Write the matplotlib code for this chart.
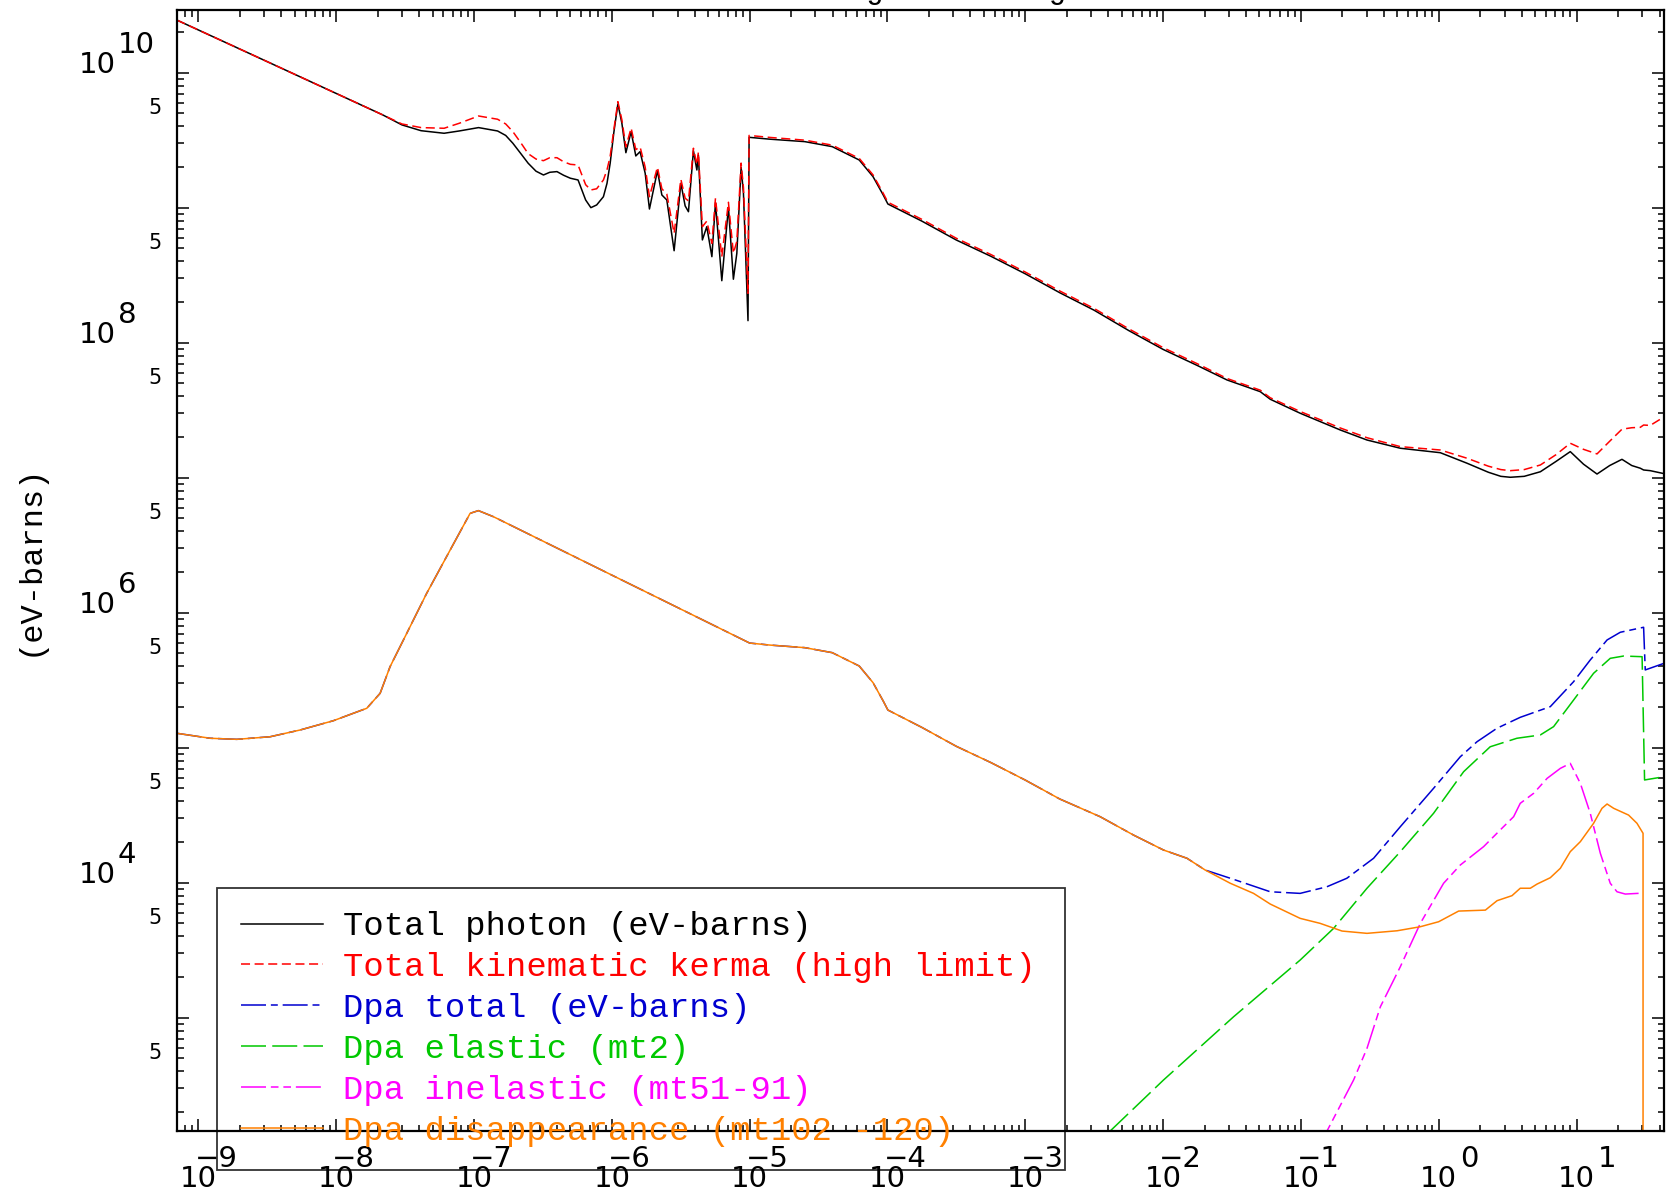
import numpy as np
import matplotlib
matplotlib.use("Agg")
import matplotlib.pyplot as plt
import matplotlib.transforms as mtransforms
from matplotlib.ticker import LogLocator, NullFormatter

# ---- data (log10 of energy, log10 of eV-barns) ----
black_logE = [-9.157, -8.495, -7.662, -7.523, -7.384, -7.217, -7.107, -6.967, -6.829, -6.77,
              -6.718, -6.66, -6.607, -6.55, -6.496, -6.45, -6.398, -6.35, -6.301, -6.245,
              -6.190, -6.152, -6.11, -6.061, -6.035, -6.012, -5.985, -5.956,
              -5.927, -5.898, -5.860, -5.826, -5.795, -5.758, -5.727, -5.669, -5.637, -5.601,
              -5.548, -5.499, -5.468, -5.444, -5.408, -5.383, -5.372, -5.343, -5.311, -5.274,
              -5.248, -5.202, -5.154, -5.118, -5.093, -5.062, -5.045, -5.012, -5.004, -4.851,
              -4.600, -4.401, -4.205, -4.105, -4.031, -3.997, -3.75, -3.5, -3.25, -3.0,
              -2.75, -2.5, -2.25, -2.0, -1.75, -1.537, -1.295, -1.223, -1.005, -0.714,
              -0.521, -0.279, 0.011, 0.205, 0.36, 0.45, 0.519, 0.62, 0.737, 0.85,
              0.954, 1.05, 1.148, 1.24, 1.329, 1.40, 1.462, 1.486, 1.534, 1.634]
black_logY = [10.390, 10.079, 9.687, 9.613, 9.570, 9.551, 9.568, 9.593, 9.568, 9.535,
              9.477, 9.400, 9.329, 9.270, 9.242, 9.262, 9.267, 9.240, 9.218, 9.205,
              9.057, 9.000, 9.020, 9.081, 9.180, 9.329, 9.560, 9.768,
              9.625, 9.407, 9.563, 9.383, 9.415, 9.255, 8.990, 9.274, 9.094, 9.057,
              8.681, 9.181, 9.013, 8.970, 9.422, 9.279, 9.390, 8.761, 8.859, 8.637,
              9.037, 8.459, 9.003, 8.470, 8.662, 9.299, 9.107, 8.163, 9.521, 9.507,
              9.489, 9.452, 9.353, 9.230, 9.094, 9.027, 8.90, 8.76, 8.64, 8.51,
              8.37, 8.24, 8.09, 7.95, 7.83, 7.724, 7.637, 7.581, 7.477, 7.353,
              7.279, 7.218, 7.185, 7.107, 7.040, 7.010, 7.003, 7.010, 7.044, 7.120,
              7.193, 7.100, 7.027, 7.090, 7.136, 7.090, 7.070, 7.057, 7.052, 7.030]
red_logY = [10.390, 10.079, 9.687, 9.620, 9.593, 9.588, 9.625, 9.679, 9.655, 9.620,
            9.563, 9.480, 9.400, 9.360, 9.348, 9.370, 9.370, 9.340, 9.321, 9.316,
            9.170, 9.131, 9.140, 9.205, 9.280, 9.380, 9.580, 9.785,
            9.650, 9.450, 9.590, 9.430, 9.450, 9.300, 9.081, 9.300, 9.140, 9.100,
            8.810, 9.210, 9.070, 9.050, 9.440, 9.320, 9.410, 8.859, 8.900, 8.736,
            9.070, 8.637, 9.040, 8.662, 8.750, 9.330, 9.150, 8.366, 9.535, 9.520,
            9.500, 9.463, 9.365, 9.243, 9.107, 9.040, 8.913, 8.773, 8.653, 8.523,
            8.383, 8.253, 8.103, 7.963, 7.843, 7.735, 7.648, 7.592, 7.490, 7.368,
            7.296, 7.230, 7.205, 7.144, 7.085, 7.060, 7.052, 7.060, 7.094, 7.170,
            7.255, 7.210, 7.176, 7.270, 7.359, 7.370, 7.373, 7.390, 7.387, 7.450]

orange_logE = [-9.157, -8.915, -8.721, -8.480, -8.262, -8.020, -7.778, -7.681, -7.609, -7.488,
               -7.343, -7.173, -7.028, -6.968, -6.859, -5.000, -4.851, -4.600, -4.401, -4.205,
               -4.105, -4.031, -3.997, -3.75, -3.5, -3.25, -3.0, -2.75, -2.457, -2.215,
               -1.997, -1.827, -1.695, -1.513, -1.344, -1.223, -1.006, -0.861, -0.702, -0.521,
               -0.303, -0.134, -0.001, 0.144, 0.338, 0.423, 0.531, 0.591, 0.664, 0.713,
               0.809, 0.882, 0.954, 1.027, 1.123, 1.184, 1.221, 1.269, 1.377, 1.438,
               1.482, 1.482]
orange_logY = [5.107, 5.070, 5.062, 5.081, 5.131, 5.200, 5.292, 5.403, 5.600, 5.847,
               6.144, 6.464, 6.736, 6.756, 6.711, 5.775, 5.760, 5.741, 5.704, 5.605,
               5.482, 5.346, 5.279, 5.150, 5.010, 4.890, 4.760, 4.620, 4.489, 4.353,
               4.242, 4.181, 4.094, 3.996, 3.921, 3.842, 3.736, 3.699, 3.642, 3.625,
               3.644, 3.674, 3.711, 3.790, 3.797, 3.867, 3.904, 3.959, 3.959, 3.990,
               4.037, 4.107, 4.230, 4.304, 4.440, 4.551, 4.583, 4.551, 4.501, 4.440,
               4.366, 1.000]

# dpa total follows the disappearance curve up to this point, then splits off
n_shared = 33
blue_tail_logE = [-1.489, -1.223, -1.006, -0.812, -0.667, -0.473, -0.279, -0.038, 0.156, 0.277,
                  0.422, 0.591, 0.809, 0.978, 1.099, 1.221, 1.317, 1.486, 1.498, 1.634]
blue_tail_logY = [4.025, 3.933, 3.921, 3.970, 4.033, 4.181, 4.415, 4.699, 4.933, 5.044,
                  5.144, 5.225, 5.304, 5.489, 5.650, 5.798, 5.855, 5.892, 5.576, 5.625]

green_logE = [-2.55, -2.384, -1.997, -1.489, -1.006, -0.763, -0.521, -0.279, -0.038, 0.180,
              0.373, 0.567, 0.736, 0.833, 0.978, 1.123, 1.244, 1.341, 1.475, 1.493, 1.634]
green_logY = [2.000, 2.161, 2.539, 3.007, 3.427, 3.662, 3.959, 4.230, 4.514, 4.822,
              5.007, 5.070, 5.094, 5.156, 5.353, 5.551, 5.662, 5.679, 5.674, 4.761, 4.785]

magenta_logE = [-0.870, -0.811, -0.618, -0.521, -0.424, -0.279, -0.134, 0.035, 0.156, 0.325,
                0.446, 0.543, 0.591, 0.688, 0.786, 0.882, 0.954, 1.027, 1.099, 1.172,
                1.244, 1.293, 1.353, 1.482]
magenta_logY = [2.040, 2.161, 2.539, 2.773, 3.081, 3.378, 3.699, 3.996, 4.131, 4.267,
                4.391, 4.489, 4.588, 4.662, 4.773, 4.847, 4.884, 4.736, 4.514, 4.218,
                3.996, 3.933, 3.916, 3.923]

labels = ["Total photon (eV-barns)",
          "Total kinematic kerma (high limit)",
          "Dpa total (eV-barns)",
          "Dpa elastic (mt2)",
          "Dpa inelastic (mt51-91)",
          "Dpa disappearance (mt102 -120)"]

x_decades = list(range(-9, 2))
y_labelled = [10, 8, 6, 4]
y_fives = list(range(2, 10))

# ---- figure ----
W, H, DPI = 1667, 1196, 100
plt.rcParams["lines.scale_dashes"] = False
fig = plt.figure(figsize=(W / DPI, H / DPI), dpi=DPI)
ax = fig.add_axes([176.7 / W, 1 - 1131 / H, (1664 - 176.7) / W, (1131 - 10) / H])


def p(v):
    # pixels -> points
    return v * 72.0 / DPI


lw = 1.1
ax.plot(10 ** np.array(black_logE), 10 ** np.array(black_logY), color="black", lw=lw,
        label=labels[0])
ax.plot(10 ** np.array(black_logE), 10 ** np.array(red_logY), color="#ff0000", lw=lw,
        dashes=(6.5, 3.3), label=labels[1])
blue_logE = np.concatenate([orange_logE[:n_shared], blue_tail_logE])
blue_logY = np.concatenate([orange_logY[:n_shared], blue_tail_logY])
ax.plot(10 ** blue_logE, 10 ** blue_logY, color="#0000d0", lw=lw,
        dashes=(18, 3.5, 5, 3.5), label=labels[2])
ax.plot(10 ** np.array(green_logE), 10 ** np.array(green_logY), color="#00c800", lw=lw,
        dashes=(18, 4.5), label=labels[3])
ax.plot(10 ** np.array(magenta_logE), 10 ** np.array(magenta_logY), color="#ff00ff", lw=lw,
        dashes=(18, 3.5, 5.5, 3.5, 5.5, 3.5), label=labels[4])
ax.plot(10 ** np.array(orange_logE), 10 ** np.array(orange_logY), color="#ff8000", lw=lw,
        label=labels[5])

ax.set_xscale("log")
ax.set_yscale("log")
ax.set_xlim(10 ** -9.157, 10 ** 1.634)
ax.set_ylim(10 ** 2.161, 10 ** 10.464)

for axis in (ax.xaxis, ax.yaxis):
    axis.set_major_locator(LogLocator(base=10, numticks=100))
    axis.set_minor_locator(LogLocator(base=10, subs=np.arange(2, 10), numticks=200))
    axis.set_major_formatter(NullFormatter())
    axis.set_minor_formatter(NullFormatter())
ax.tick_params(which="both", direction="in", top=True, right=True, width=1.1, color="black")
ax.tick_params(which="major", length=p(12))
ax.tick_params(which="minor", length=p(6.5))
for s in ax.spines.values():
    s.set_linewidth(1.6)

# ---- tick labels: "10" with a full-size exponent, like the original plot ----
tick_font = dict(family="DejaVu Sans", size=21, color="black")
xtr = mtransforms.blended_transform_factory(ax.transData, ax.transAxes)
for k in x_decades:
    base_tr = mtransforms.offset_copy(xtr, fig=fig, x=0, y=-p(55.7), units="points")
    ax.text(10.0 ** k, 0, "10", transform=base_tr, ha="center", va="baseline",
            clip_on=False, **tick_font)
    if k < 0:
        exp_tr = mtransforms.offset_copy(xtr, fig=fig, x=p(39), y=-p(36), units="points")
        ax.text(10.0 ** k, 0, "\u2212%d" % -k, transform=exp_tr, ha="right",
                va="baseline", clip_on=False, **tick_font)
    else:
        exp_tr = mtransforms.offset_copy(xtr, fig=fig, x=p(21), y=-p(36), units="points")
        ax.text(10.0 ** k, 0, "%d" % k, transform=exp_tr, ha="left",
                va="baseline", clip_on=False, **tick_font)

ytr = mtransforms.blended_transform_factory(ax.transAxes, ax.transData)
for k in y_labelled:
    base_tr = mtransforms.offset_copy(ytr, fig=fig, x=-p(60.5), y=-p(0.6), units="points")
    ax.text(0, 10.0 ** k, "10", transform=base_tr, ha="right", va="baseline",
            clip_on=False, **tick_font)
    exp_tr = mtransforms.offset_copy(ytr, fig=fig, x=-p(59), y=p(19.5), units="points")
    ax.text(0, 10.0 ** k, "%d" % k, transform=exp_tr, ha="left", va="baseline",
            clip_on=False, **tick_font)
for k in y_fives:
    five_tr = mtransforms.offset_copy(ytr, fig=fig, x=-p(15.5), y=-p(0.7), units="points")
    ax.text(0, 5 * 10.0 ** k, "5", transform=five_tr, ha="right", va="baseline",
            clip_on=False, family="DejaVu Sans", size=15, color="black")

# ---- axis label, clipped title, legend ----
mono = "Liberation Mono"
fig.text(30 / W, 1 - 560 / H, "(eV-barns)", rotation=90, ha="center", va="center",
         family=mono, size=23)
fig.text((176.7 + 1664) / 2 / W, 1 + 2.0 / H, "Heating and Damage", ha="center",
         va="baseline", family=mono, size=22)

leg = ax.legend(loc="upper left",
                bbox_to_anchor=(217.4 / W, 1 - 887.7 / H, (1065 - 217.4) / W, 0),
                bbox_transform=fig.transFigure, mode="expand",
                prop={"family": mono, "size": 24.4}, labelcolor="linecolor",
                handlelength=2.42, handletextpad=0.6, borderpad=0.7,
                labelspacing=0.29, borderaxespad=0, fancybox=False,
                facecolor="none", edgecolor="black", framealpha=None)
leg.get_frame().set_linewidth(1.3)

fig.savefig("out.png", dpi=DPI)
